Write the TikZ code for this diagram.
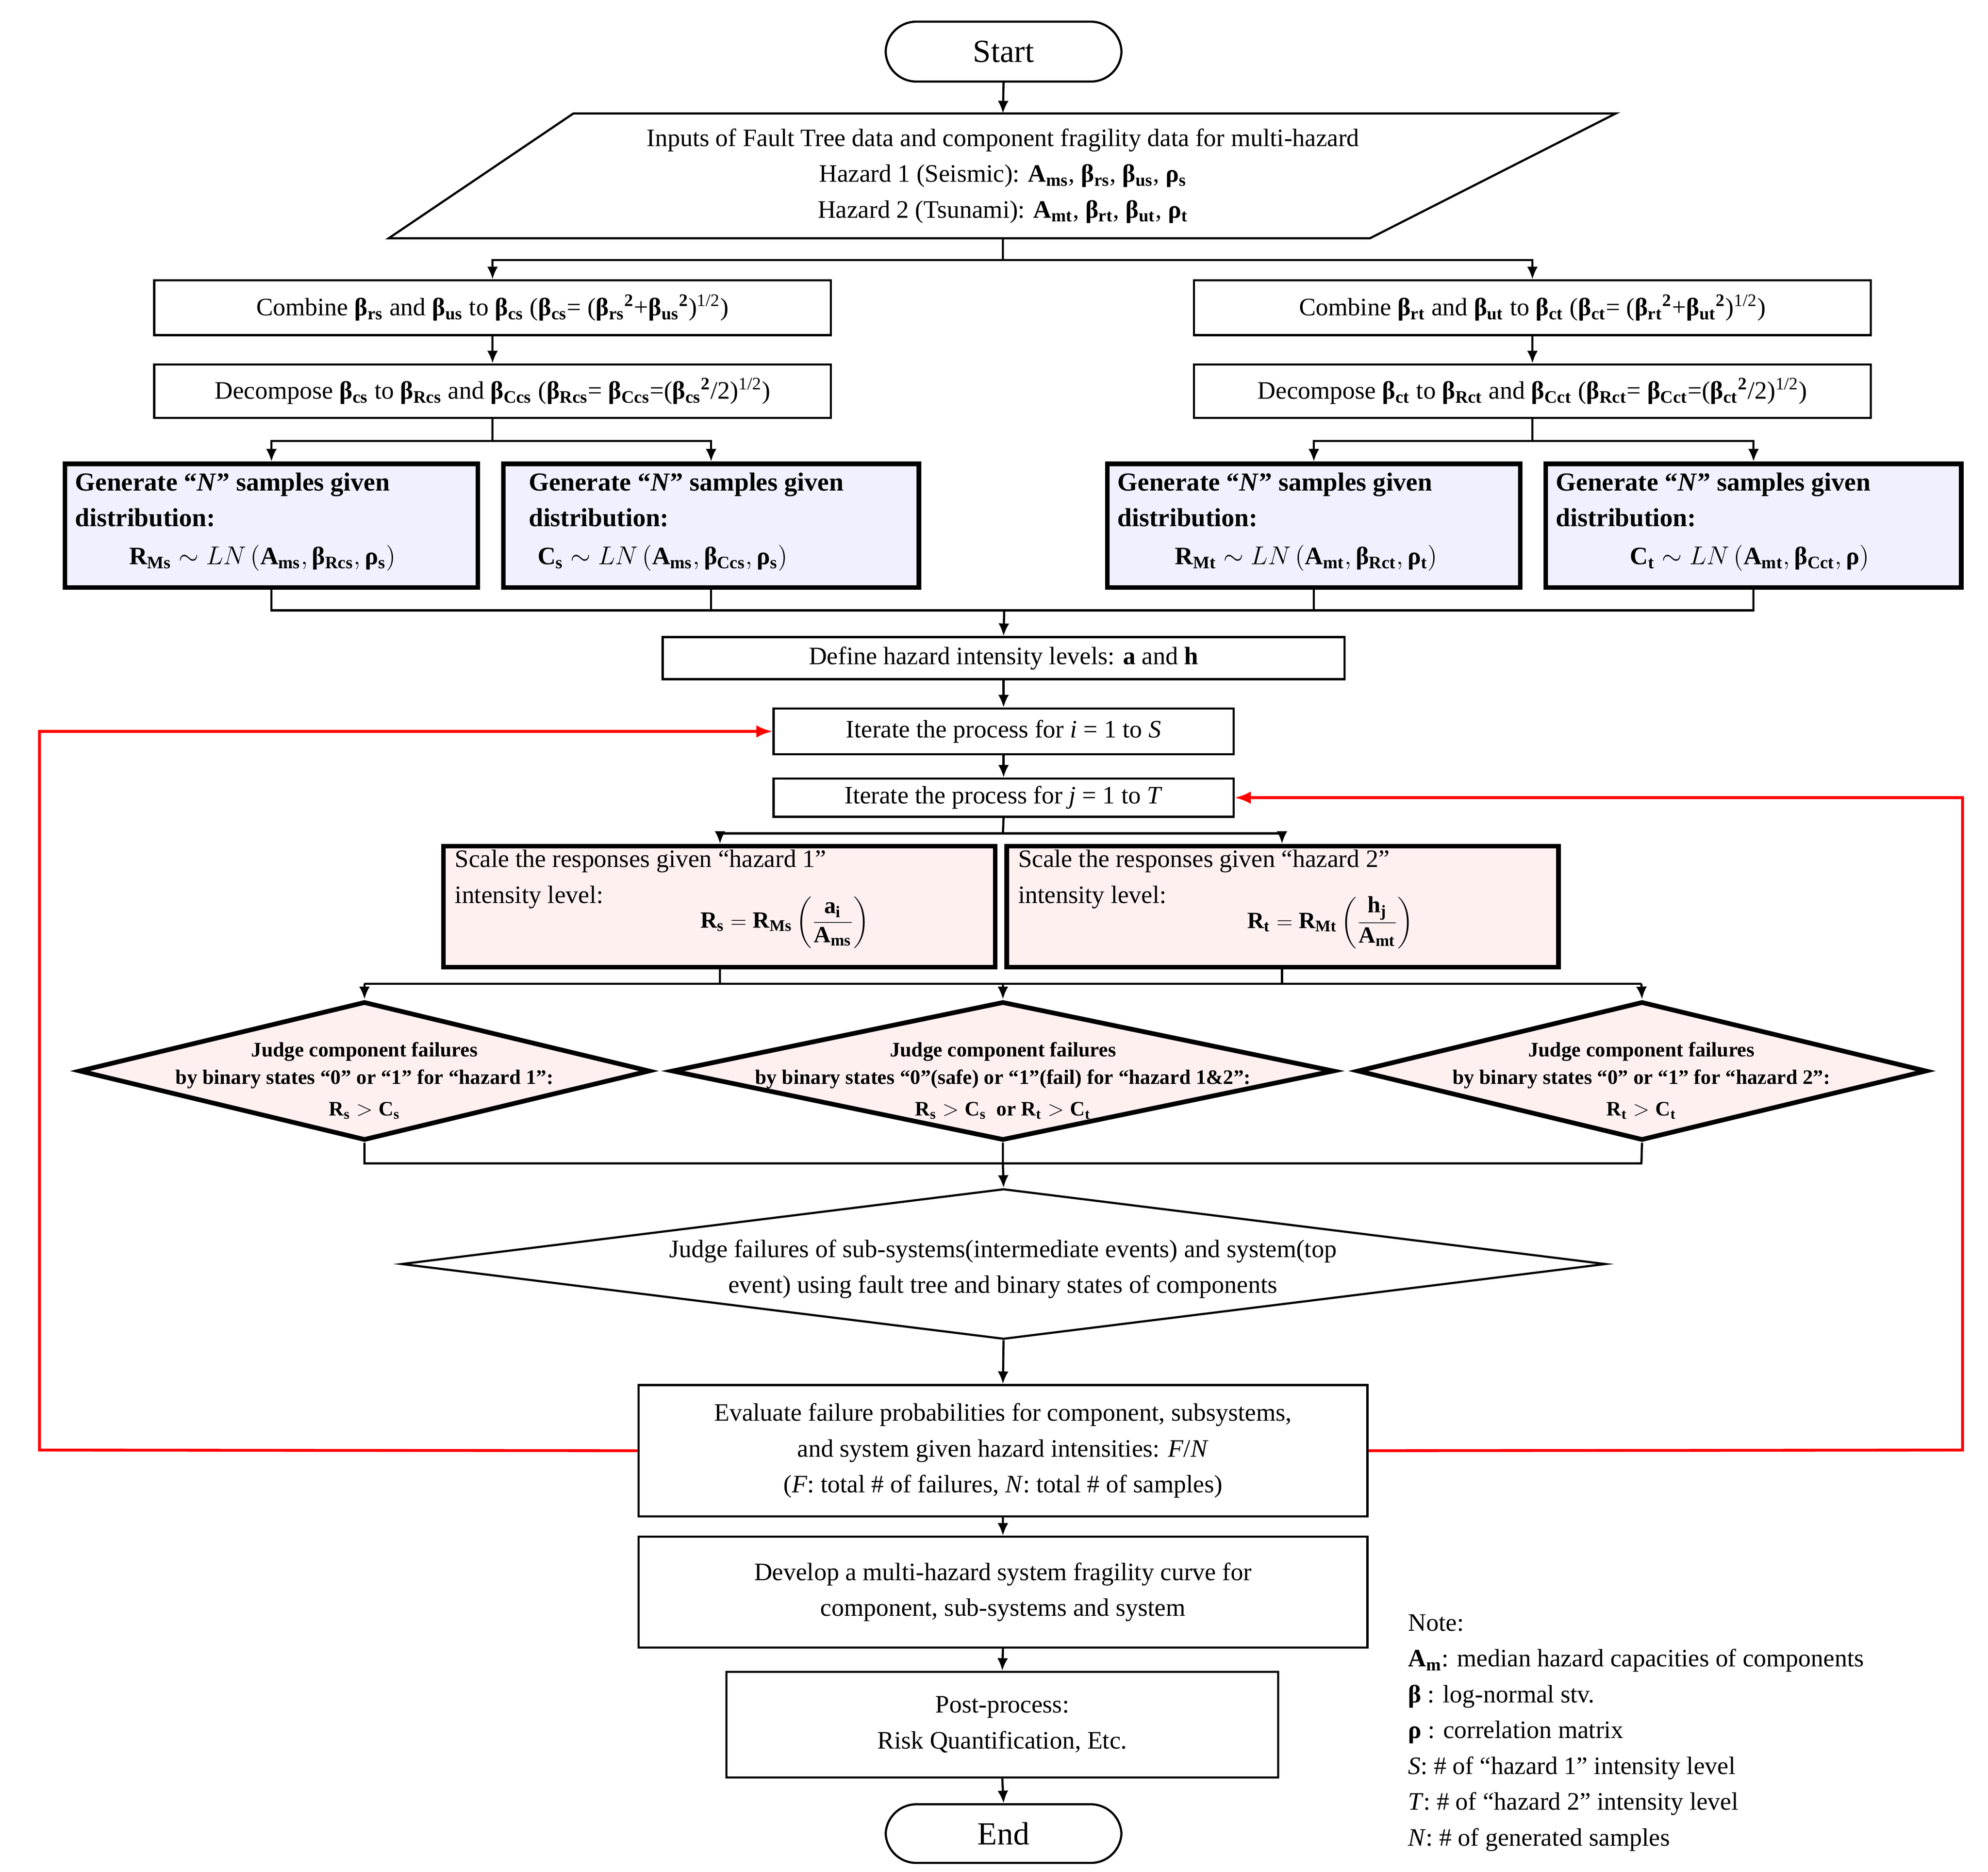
\documentclass[tikz,border=0pt]{standalone}
\usepackage{amsmath}
\usepackage{fontspec}
\setmainfont{Liberation Serif}
\usetikzlibrary{shapes.geometric,arrows.meta}
\newcommand\bx[7]{\node[#6, minimum width={(#4-#2)*0.025cm}, minimum height={(#5-#3)*0.025cm}] (#1) at ({(#2+#4)/2},{-(#3+#5)/2}) {#7};}
\newcommand\gb[2]{\textbf{#1\textsubscript{#2}}}
\newcommand\sq{\textsuperscript{\textbf{2}}}
\newcommand\hf{\textsuperscript{1/2}}
\newcommand\mb[2]{\mathbf{#1}_{\mathbf{#2}}}
\newcommand\mg[2]{\text{\gb{#1}{#2}}}
\begin{document}
\begin{tikzpicture}[x=0.025cm,y=0.025cm,
  every node/.style={font=\fontsize{14}{20}\selectfont},
  box/.style={draw,line width=1.2pt,inner sep=2pt,align=center},
  gen/.style={draw,line width=2.6pt,fill=blue!6,inner sep=0pt},
  sc/.style={draw,line width=2.6pt,fill=red!6,inner sep=0pt},
  dia/.style={draw,diamond,inner sep=0pt},
  term/.style={draw,rounded corners=24*0.025cm,line width=1.2pt,font=\fontsize{18}{20}\selectfont},
  ar/.style={line width=1.2pt,-{Latex[length=7pt,width=6pt]}},
  ln/.style={line width=1.2pt},
  red/.style={line width=1.6pt,draw=red,-{Latex[length=9pt,width=7pt]}},
  dtx/.style={font=\bfseries\fontsize{11.5}{15.5}\selectfont,align=center},
  gtx/.style={font=\bfseries\fontsize{14.5}{20}\selectfont,align=left,anchor=north west}]
\useasboundingbox (0,0) rectangle (1560,-1469);
% Start
\bx{start}{695}{17}{880}{64}{term}{Start}
% parallelogram
\coordinate (p1) at (450,-89); \coordinate (p2) at (1268,-89);
\coordinate (p3) at (1075,-187); \coordinate (p4) at (305,-187);
\draw[ln] (p1)--(p2)--(p3)--(p4)--cycle;
\node[align=center] (inp) at (787,-138) {Inputs of Fault Tree data and component fragility data for multi-hazard\\
Hazard 1 (Seismic): \gb{A}{ms}, \gb{β}{rs}, \gb{β}{us}, \gb{ρ}{s}\\
Hazard 2 (Tsunami): \gb{A}{mt}, \gb{β}{rt}, \gb{β}{ut}, \gb{ρ}{t}};
\coordinate (intop) at (787,-89);
\coordinate (inb) at (787,-187);
\draw[ar] (start.south) -- (intop);
% combine / decompose
\bx{L1}{121}{220}{652}{263}{box}{Combine \gb{β}{rs} and \gb{β}{us} to \gb{β}{cs} (\gb{β}{cs}= (\gb{β}{rs}\sq+\gb{β}{us}\sq)\hf)}
\bx{L2}{121}{286}{652}{328}{box}{Decompose \gb{β}{cs} to \gb{β}{Rcs} and \gb{β}{Ccs} (\gb{β}{Rcs}= \gb{β}{Ccs}=(\gb{β}{cs}\sq/2)\hf)}
\bx{R1}{937}{220}{1468}{263}{box}{Combine \gb{β}{rt} and \gb{β}{ut} to \gb{β}{ct} (\gb{β}{ct}= (\gb{β}{rt}\sq+\gb{β}{ut}\sq)\hf)}
\bx{R2}{937}{286}{1468}{328}{box}{Decompose \gb{β}{ct} to \gb{β}{Rct} and \gb{β}{Cct} (\gb{β}{Rct}= \gb{β}{Cct}=(\gb{β}{ct}\sq/2)\hf)}
\coordinate (j1) at (787,-204);
\draw[ln] (inb) -- (j1);
\draw[ar] (j1) -| (L1.north);
\draw[ar] (j1) -| (R1.north);
\draw[ar] (L1.south) -- (L2.north);
\draw[ar] (R1.south) -- (R2.north);
% generate
\bx{G1}{51}{364}{375}{461}{gen}{}
\bx{G2}{395}{364}{721}{461}{gen}{}
\bx{G3}{869}{364}{1193}{461}{gen}{}
\bx{G4}{1213}{364}{1539}{461}{gen}{}
\node[gtx] (g1t) at (54,-366) {Generate “\textit{N}” samples given\\distribution:};
\node[gtx] (g2t) at (410,-366) {Generate “\textit{N}” samples given\\distribution:};
\node[gtx] (g3t) at (872,-366) {Generate “\textit{N}” samples given\\distribution:};
\node[gtx] (g4t) at (1216,-366) {Generate “\textit{N}” samples given\\distribution:};
\node (g1f) at (206,-438) {$\mb{R}{Ms}\sim LN\left(\mb{A}{ms},\mg{β}{Rcs},\mg{ρ}{s}\right)$};
\node (g2f) at (520,-438) {$\mb{C}{s}\sim LN\left(\mb{A}{ms},\mg{β}{Ccs},\mg{ρ}{s}\right)$};
\node (g3f) at (1025,-438) {$\mb{R}{Mt}\sim LN\left(\mb{A}{mt},\mg{β}{Rct},\mg{ρ}{t}\right)$};
\node (g4f) at (1373,-438) {$\mb{C}{t}\sim LN\left(\mb{A}{mt},\mg{β}{Cct},\text{\textbf{ρ}}\right)$};
\coordinate (j2) at (385,-346); \coordinate (j3) at (1203,-346);
\draw[ln] (L2.south) -- (L2.south |- j2);
\draw[ar] (L2.south |- j2) -| (G1.north -| 213,0);
\draw[ar] (L2.south |- j2) -| (G2.north -| 558,0);
\draw[ln] (R2.south) -- (R2.south |- j3);
\draw[ar] (R2.south |- j3) -| (G3.north -| 1031,0);
\draw[ar] (R2.south |- j3) -| (G4.north -| 1376,0);
% merge
\coordinate (m1) at (213,-479); \coordinate (m2) at (1376,-479);
\draw[ln] (G1.south -| 213,0) -- (m1) -- (m2) -- (G4.south -| 1376,0);
\draw[ln] (G2.south -| 558,0) -- (558,-479);
\draw[ln] (G3.south -| 1031,0) -- (1031,-479);
\bx{def}{520}{500}{1055}{533}{box}{Define hazard intensity levels: \textbf{a} and \textbf{h}}
\draw[ar] (788,-479) -- (def.north);
\bx{iti}{607}{556}{968}{592}{box}{Iterate the process for \textit{i} = 1 to \textit{S}}
\bx{itj}{607}{611}{968}{641}{box}{Iterate the process for \textit{j} = 1 to \textit{T}}
\draw[ar] (def.south) -- (iti.north);
\draw[ar] (iti.south) -- (itj.north);
% scale
\bx{S1}{348}{664}{781}{759}{sc}{}
\bx{S2}{790}{664}{1223}{759}{sc}{}
\node[align=left,anchor=north west] (s1t) at (352,-662) {Scale the responses given “hazard 1”\\intensity level:};
\node[align=left,anchor=north west] (s2t) at (794,-662) {Scale the responses given “hazard 2”\\intensity level:};
\node[font=\fontsize{13}{16}\selectfont] (s1f) at (616,-724) {$\mb{R}{s}=\mb{R}{Ms}\left(\dfrac{\mb{a}{i}}{\mb{A}{ms}}\right)$};
\node[font=\fontsize{13}{16}\selectfont] (s2f) at (1044,-724) {$\mb{R}{t}=\mb{R}{Mt}\left(\dfrac{\mb{h}{j}}{\mb{A}{mt}}\right)$};
\coordinate (j4) at (787,-654);
\draw[ln] (itj.south) -- (j4);
\draw[ar] (j4) -| (S1.north -| 565,0);
\draw[ar] (j4) -| (S2.north -| 1006,0);
% diamonds
\bx{D1}{62}{786}{510}{895}{dia,line width=2.6pt,fill=red!6}{}
\bx{D2}{527}{786}{1047}{895}{dia,line width=2.6pt,fill=red!6}{}
\bx{D3}{1065}{786}{1512}{895}{dia,line width=2.6pt,fill=red!6}{}
\node[dtx] (d1t) at (286,-848) {Judge component failures\\by binary states “0” or “1” for “hazard 1”:\\[2pt]$\mb{R}{s}>\mb{C}{s}$};
\node[dtx] (d2t) at (787,-848) {Judge component failures\\by binary states “0”(safe) or “1”(fail) for “hazard 1\&2”:\\[2pt]$\mb{R}{s}>\mb{C}{s}$ \ or $\mb{R}{t}>\mb{C}{t}$};
\node[dtx] (d3t) at (1288,-848) {Judge component failures\\by binary states “0” or “1” for “hazard 2”:\\[2pt]$\mb{R}{t}>\mb{C}{t}$};
\coordinate (j5) at (286,-772); \coordinate (j6) at (1288,-772);
\draw[ln] (S1.south -| 565,0) -- (565,-772);
\draw[ln] (S2.south -| 1006,0) -- (1006,-772);
\draw[ar] (j5) -- (D1.north);
\draw[ar] (j6) -- (D3.north);
\draw[ln] (j5) -- (j6);
\draw[ar] (787,-772) -- (D2.north);
\coordinate (j7) at (286,-913); \coordinate (j8) at (1288,-913);
\draw[ln] (D1.south) -- (j7) -- (j8) -- (D3.south);
\draw[ln] (D2.south) -- (787,-913);
\bx{BD}{315}{933}{1260}{1051}{dia,line width=1.2pt}{}
\node[align=center] (bdt) at (787,-996) {Judge failures of sub-systems(intermediate events) and system(top\\event) using fault tree and binary states of components};
\draw[ar] (787,-913) -- (BD.north);
\bx{ev}{501}{1087}{1073}{1190}{box}{Evaluate failure probabilities for component, subsystems,\\and system given hazard intensities: \textit{F}/\textit{N}\\(\textit{F}: total \# of failures, \textit{N}: total \# of samples)}
\draw[ar] (BD.south) -- (ev.north);
\bx{dev}{501}{1206}{1073}{1293}{box}{Develop a multi-hazard system fragility curve for\\component, sub-systems and system}
\bx{post}{570}{1312}{1003}{1395}{box}{Post-process:\\Risk Quantification, Etc.}
\bx{end}{695}{1416}{880}{1462}{term}{End}
\draw[ar] (ev.south) -- (dev.north);
\draw[ar] (dev.south) -- (post.north);
\draw[ar] (post.south) -- (end.north);
% red loops
\coordinate (rl) at (31,-1138); \coordinate (rr) at (1540,-1138);
\draw[red] (ev.west) -- (rl) |- (iti.west);
\draw[red] (ev.east) -- (rr) |- (itj.east);
% note
\node[align=left,anchor=north west] (note) at (1100,-1262) {Note:\\
\gb{A}{m}: median hazard capacities of components\\
\textbf{β} : log-normal stv.\\
\textbf{ρ} : correlation matrix\\
\textit{S}: \# of “hazard 1” intensity level\\
\textit{T}: \# of “hazard 2” intensity level\\
\textit{N}: \# of generated samples};
\end{tikzpicture}
\end{document}
